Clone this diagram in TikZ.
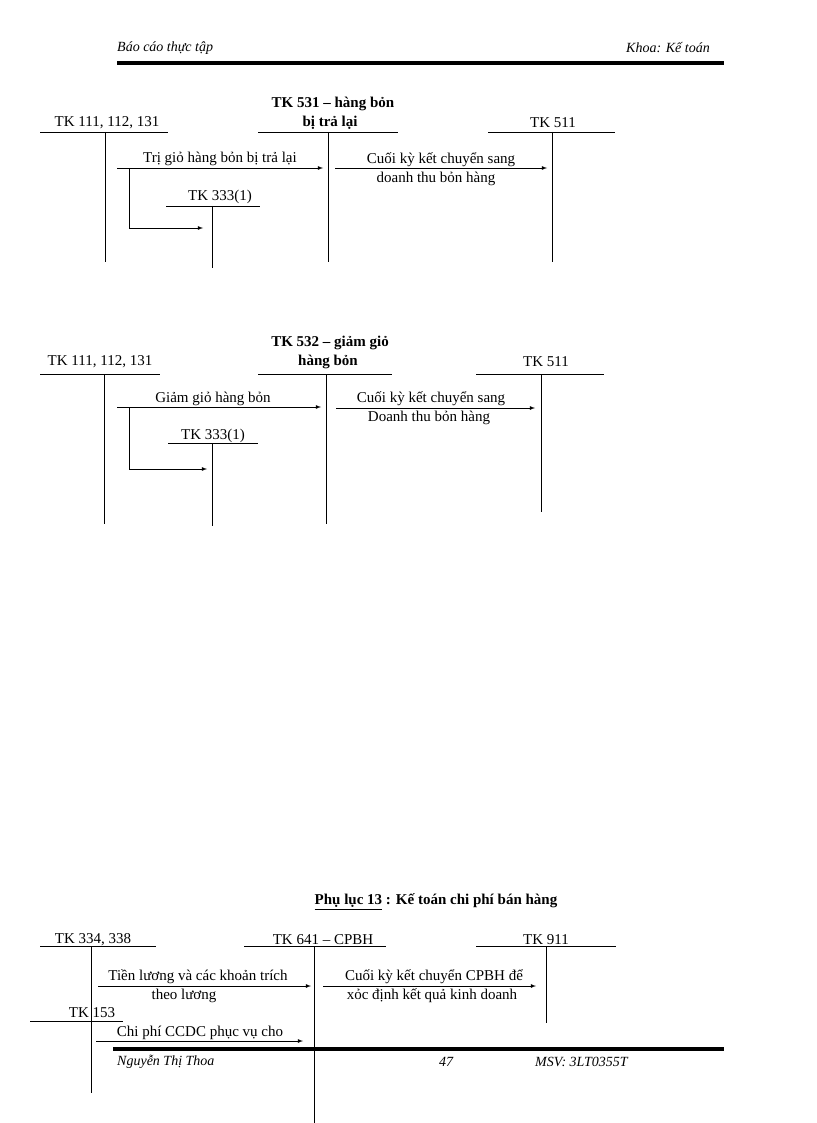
\documentclass[tikz,border=0pt]{standalone}
\usepackage{fontspec}
\setmainfont{Liberation Serif}
\begin{document}
\begin{tikzpicture}[x=1pt,y=-1pt,
 lbl/.style={inner sep=0pt,font=\fontsize{15}{18}\selectfont},
 ttl/.style={inner sep=0pt,font=\fontsize{15}{18}\selectfont\bfseries},
 hdr/.style={inner sep=0pt,font=\fontsize{14}{17}\selectfont\itshape},
 ln/.style={line width=0.8pt},
 arr/.style={line width=0.8pt,-latex},
 thick/.style={line width=3.5pt}]
\useasboundingbox (0,0) rectangle (816,1123);
% header
\node[hdr,anchor=west] (h1) at (117,48) {Báo cáo thực tập};
\node[hdr,anchor=east] (h2) at (710,48) {Khoa: Kế toán};
\draw[thick] (117,63) -- (724,63);
% diagram 1
\node[lbl] (a1) at (107,123) {TK 111, 112, 131};
\node[ttl] (b1t) at (333,104) {TK 531 – hàng bỏn};
\node[ttl] (b1) at (330,123) {bị trả lại};
\node[lbl] (c1) at (553,123) {TK 511};
\draw[ln] (40,132) -- (168,132); \draw[ln] (105,132) -- (105,262);
\draw[ln] (258,132) -- (398,132); \draw[ln] (328,132) -- (328,262);
\draw[ln] (488,132) -- (615,132); \draw[ln] (552,132) -- (552,262);
\coordinate (p1) at (117,168); \coordinate (q1) at (323,168);
\draw[arr] (p1) -- (q1);
\node[lbl] (t11) at (220,159) {Trị giỏ hàng bỏn bị trả lại};
\coordinate (p2) at (335,168); \coordinate (q2) at (547,168);
\draw[arr] (p2) -- (q2);
\node[lbl] (t12) at (441,160) {Cuối kỳ kết chuyển sang};
\node[lbl] (t13) at (436,179) {doanh thu bỏn hàng};
\node[lbl] (d1) at (220,197) {TK 333(1)};
\draw[ln] (166,206) -- (260,206); \draw[ln] (212,206) -- (212,268);
\coordinate (r1) at (129,168); \coordinate (s1) at (203,228);
\draw[arr] (r1) |- (s1);
% diagram 2
\node[lbl] (a2) at (100,362) {TK 111, 112, 131};
\node[ttl] (b2t) at (330,343) {TK 532 – giảm giỏ};
\node[ttl] (b2) at (328,362) {hàng bỏn};
\node[lbl] (c2) at (546,362) {TK 511};
\draw[ln] (40,374) -- (160,374); \draw[ln] (104,374) -- (104,524);
\draw[ln] (258,374) -- (392,374); \draw[ln] (326,374) -- (326,524);
\draw[ln] (476,374) -- (604,374); \draw[ln] (541,374) -- (541,512);
\coordinate (p3) at (117,407); \coordinate (q3) at (321,407);
\draw[arr] (p3) -- (q3);
\node[lbl] (t21) at (213,399) {Giảm giỏ hàng bỏn};
\coordinate (p4) at (336,408); \coordinate (q4) at (535,408);
\draw[arr] (p4) -- (q4);
\node[lbl] (t22) at (431,399) {Cuối kỳ kết chuyển sang};
\node[lbl] (t23) at (429,418) {Doanh thu bỏn hàng};
\node[lbl] (d2) at (213,436) {TK 333(1)};
\draw[ln] (168,443) -- (258,443); \draw[ln] (212,443) -- (212,526);
\coordinate (r2) at (129,407); \coordinate (s2) at (207,469);
\draw[arr] (r2) |- (s2);
% diagram 3
\node[ttl] (tt) at (436,902) {\underline{Phụ lục 13} : Kế toán chi phí bán hàng};
\node[lbl] (a3) at (93,940) {TK 334, 338};
\node[lbl] (b3) at (323,940) {TK 641 – CPBH};
\node[lbl] (c3) at (546,940) {TK 911};
\draw[ln] (40,946) -- (156,946); \draw[ln] (91,946) -- (91,1093);
\draw[ln] (244,946) -- (386,946); \draw[ln] (314,946) -- (314,1123);
\draw[ln] (476,946) -- (616,946); \draw[ln] (546,946) -- (546,1023);
\coordinate (p5) at (98,986); \coordinate (q5) at (311,986);
\draw[arr] (p5) -- (q5);
\node[lbl] (t31) at (198,977) {Tiền lương và các khoản trích};
\node[lbl] (t32) at (184,996) {theo lương};
\coordinate (p6) at (323,986); \coordinate (q6) at (536,986);
\draw[arr] (p6) -- (q6);
\node[lbl] (t33) at (434,977) {Cuối kỳ kết chuyển CPBH để};
\node[lbl] (t34) at (432,996) {xỏc định kết quả kinh doanh};
\node[lbl] (d3) at (92,1013) {TK 153};
\draw[ln] (30,1021) -- (123,1021);
\coordinate (p7) at (96,1041); \coordinate (q7) at (303,1041);
\draw[arr] (p7) -- (q7);
\node[lbl] (t35) at (200,1033) {Chi phí CCDC phục vụ cho};
% footer
\draw[thick] (113,1049) -- (724,1049);
\node[hdr,anchor=west] (f1) at (117,1062) {Nguyễn Thị Thoa};
\node[hdr] (f2) at (446,1062) {47};
\node[hdr,anchor=west] (f3) at (535,1062) {MSV: 3LT0355T};
\end{tikzpicture}
\end{document}
